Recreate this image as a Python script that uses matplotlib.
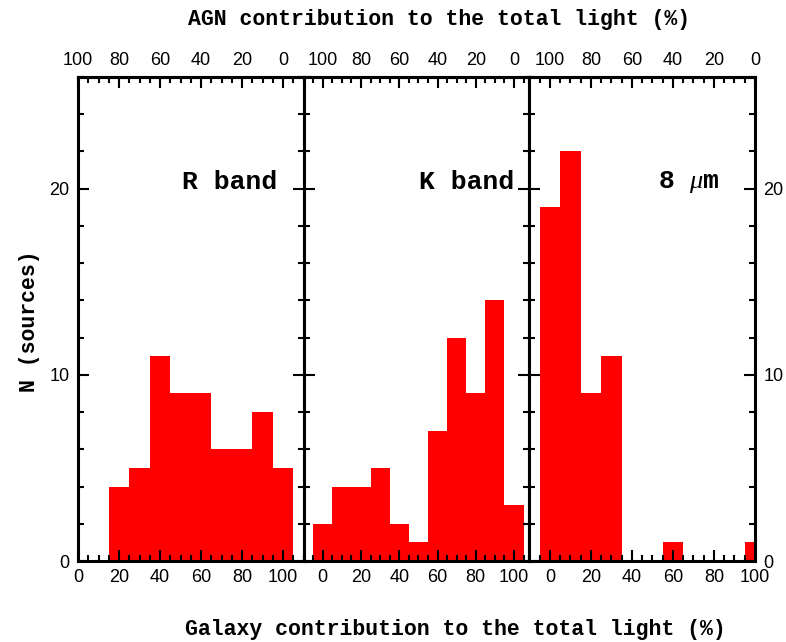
import matplotlib
matplotlib.use("Agg")
import matplotlib.pyplot as plt
from matplotlib.ticker import MultipleLocator, FixedLocator

# Histograms of the galaxy fraction per band (bin width 10%)
r_centers = [20, 30, 40, 50, 60, 70, 80, 90, 100]
r_counts = [4, 5, 11, 9, 9, 6, 6, 8, 5]

k_centers = [0, 10, 20, 30, 40, 50, 60, 70, 80, 90, 100]
k_counts = [2, 4, 4, 5, 2, 1, 7, 12, 9, 14, 3]

m8_centers = [0, 10, 20, 30, 60, 100]
m8_counts = [19, 22, 9, 11, 1, 1]

band_labels = ["R band", "K band", "8 $\\mu$m"]
xlims = [(0, 110), (-10, 108), (-10, 100)]
label_x = [0.67, 0.72, 0.705]

LABEL_FONT = "Liberation Mono"
TICK_FONT = "Liberation Sans"
LW = 2.2

plt.rcParams["mathtext.fontset"] = "custom"
plt.rcParams["mathtext.it"] = "Liberation Serif:italic"
plt.rcParams["mathtext.rm"] = "Liberation Mono"

fig = plt.figure(figsize=(7.86, 6.42), dpi=100)
left, right = 78 / 786, 755 / 786
bottom, top = 1 - 561 / 642, 1 - 77 / 642
w = (right - left) / 3

data = [(r_centers, r_counts), (k_centers, k_counts), (m8_centers, m8_counts)]

def flip(x):
    return 100 - x

for i, (centers, counts) in enumerate(data):
    ax = fig.add_axes([left + i * w, bottom, w, top - bottom])
    ax.bar(centers, counts, width=10, color="#ff0000", linewidth=0)
    ax.set_xlim(*xlims[i])
    ax.set_ylim(0, 26)

    for sp in ax.spines.values():
        sp.set_linewidth(LW)

    ax.xaxis.set_major_locator(FixedLocator([0, 20, 40, 60, 80, 100]))
    ax.xaxis.set_minor_locator(MultipleLocator(5))
    ax.yaxis.set_major_locator(MultipleLocator(10))
    ax.yaxis.set_minor_locator(MultipleLocator(2))
    ax.tick_params(which="both", direction="in", bottom=True, top=False,
                   left=True, right=True, width=1.5, labelsize=13, pad=6)
    ax.tick_params(which="major", length=8)
    ax.tick_params(which="minor", length=4)
    ax.tick_params(axis="y", labelleft=(i == 0), labelright=(i == 2))
    for lab in ax.get_xticklabels() + ax.get_yticklabels():
        lab.set_fontfamily(TICK_FONT)

    # AGN fraction on the top axis is the complement of the galaxy fraction
    sec = ax.secondary_xaxis("top", functions=(flip, flip))
    sec.xaxis.set_major_locator(FixedLocator([0, 20, 40, 60, 80, 100]))
    sec.xaxis.set_minor_locator(MultipleLocator(5))
    sec.tick_params(which="both", direction="in", width=1.5, labelsize=13, pad=6)
    sec.tick_params(which="major", length=8)
    sec.tick_params(which="minor", length=4)
    sec.spines["top"].set_linewidth(LW)
    for lab in sec.get_xticklabels():
        lab.set_fontfamily(TICK_FONT)

    ax.text(label_x[i], 0.783, band_labels[i], transform=ax.transAxes,
            ha="center", va="center", fontsize=19, fontfamily=LABEL_FONT,
            fontweight="bold")

fig.text(0.558, 0.969, "AGN contribution to the total light (%)",
         ha="center", va="center", fontsize=15.5, fontfamily=LABEL_FONT,
         fontweight="bold")
fig.text(0.579, 0.019, "Galaxy contribution to the total light (%)",
         ha="center", va="center", fontsize=15.5, fontfamily=LABEL_FONT,
         fontweight="bold")
fig.text(0.038, 0.50, "N (sources)", rotation=90,
         ha="center", va="center", fontsize=15.5, fontfamily=LABEL_FONT,
         fontweight="bold")

fig.savefig("out.png", dpi=100)
